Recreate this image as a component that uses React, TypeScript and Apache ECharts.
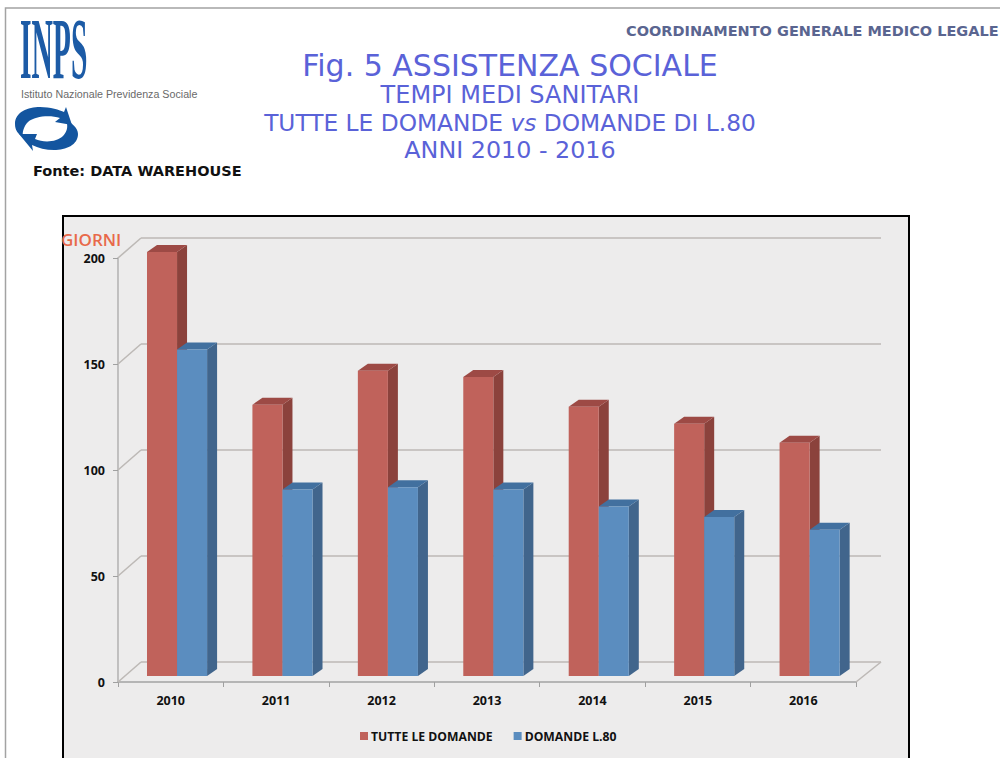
import React, { useEffect, useRef } from "react";
import * as echarts from "echarts";

const categories = ["2010", "2011", "2012", "2013", "2014", "2015", "2016"];
const tutteLeDomande = [200, 128, 144, 141, 127, 119, 110];
const domandeL80 = [154, 88, 89, 88, 80, 75, 69];
const yTicks = [0, 50, 100, 150, 200];

const SWIRL_TOP =
  "M15,124 C15,112 28,107 40,107 C50,107 60,110 64,112 L66,107 L72,125 L55,122 L60,118 C50,115 35,116 28,122 C24,126 22,132 23,137 C18,134 15,130 15,124 Z";
const SWIRL_BOTTOM =
  "M78,134 C78,145 66,150 54,150 C46,150 38,148 32,145 L33,151 L19,134 L37,134 L35,139 C44,143 57,142 63,136 C68,131 68,125 66,120 C72,123 78,128 78,134 Z";
echarts.graphic.registerShape("swirlTop", echarts.graphic.extendPath(SWIRL_TOP, {}) as any);
echarts.graphic.registerShape("swirlBottom", echarts.graphic.extendPath(SWIRL_BOTTOM, {}) as any);

function bar3d(color: string, topColor: string, sideColor: string, slot: number) {
  return (params: any, api: any) => {
    const band = api.size([1, 0])[0];
    const w = band * 0.285;
    const dx = 10;
    const dy = 7;
    const lift = 6;
    const center = api.coord([api.value(0), 0])[0] + band * 0.06;
    const x0 = center + (slot - 1) * w;
    const x1 = x0 + w;
    const yb = api.coord([0, 0])[1] - lift;
    const yt = api.coord([0, api.value(1)])[1] - lift;
    return {
      type: "group",
      children: [
        { type: "polygon", shape: { points: [[x1, yt], [x1 + dx, yt - dy], [x1 + dx, yb - dy], [x1, yb]] }, style: { fill: sideColor } },
        { type: "polygon", shape: { points: [[x0, yt], [x0 + dx, yt - dy], [x1 + dx, yt - dy], [x1, yt]] }, style: { fill: topColor } },
        { type: "rect", shape: { x: x0, y: yt, width: w, height: yb - yt }, style: { fill: color } },
      ],
    };
  };
}

function wall(params: any, api: any) {
  const v = api.value(1);
  const p = api.coord([0, v]);
  const g = params.coordSys;
  const x0 = g.x;
  const y = p[1];
  const right = g.x + g.width;
  const line = (a: number[], b: number[]) => ({
    type: "line",
    shape: { x1: a[0], y1: a[1], x2: b[0], y2: b[1] },
    style: { stroke: "#bdb9b6", lineWidth: 1.6 },
  });
  const children: any[] = [
    line([x0, y], [x0 + 23, y - 20]),
    line([x0 + 23, y - 20], [right + 25, y - 20]),
  ];
  if (v === 0) children.push(line([right, y], [right + 25, y - 20]));
  return { type: "group", children };
}

export default function App() {
  const ref = useRef<HTMLDivElement>(null);
  useEffect(() => {
    const chart = echarts.init(ref.current!, undefined, { renderer: "svg" });
    const axisFont = { fontFamily: "Open Sans", fontWeight: "bold" as const, fontSize: 12.5, color: "#111" };
    const titleColor = "#5a62d8";
    const title = (text: string, y: number, fontSize: number) => ({
      type: "text",
      x: 510,
      y,
      style: { text, fontFamily: "DejaVu Sans", fontSize, fill: titleColor, align: "center", verticalAlign: "middle" },
    });
    chart.setOption({
      animation: false,
      graphic: [
        { type: "rect", z: -10, shape: { x: 5.5, y: 8, width: 1100, height: 900 }, style: { fill: "#fff", stroke: "#a3a3a3", lineWidth: 1.5 } },
        { type: "rect", z: -9, shape: { x: 63, y: 216, width: 846, height: 600 }, style: { fill: "#edecec", stroke: "#000", lineWidth: 2 } },
        { type: "text", x: 20, y: 49, scaleX: 0.34, style: { text: "INPS", fontFamily: "Liberation Serif", fontWeight: "bold", fontSize: 87, fill: "#1c5ba6", verticalAlign: "middle" } },
        { type: "text", x: 21, y: 88, scaleX: 0.93, style: { text: "Istituto Nazionale Previdenza Sociale", fontFamily: "Liberation Sans", fontSize: 11.5, fill: "#6a6a6a" } },
        { type: "swirlTop", x: 0, y: 0, style: { fill: "#13559f" } },
        { type: "swirlBottom", x: 0, y: 0, style: { fill: "#13559f" } },
        { type: "text", x: 33, y: 163, style: { text: "Fonte: DATA WAREHOUSE", fontFamily: "DejaVu Sans", fontWeight: "bold", fontSize: 14.5, fill: "#111" } },
        { type: "text", x: 626, y: 23, style: { text: "COORDINAMENTO GENERALE MEDICO LEGALE", fontFamily: "DejaVu Sans", fontWeight: "bold", fontSize: 14.5, fill: "#5a6590" } },
        title("Fig. 5 ASSISTENZA SOCIALE", 65, 30),
        title("TEMPI MEDI SANITARI", 95, 24),
        {
          type: "text",
          x: 510,
          y: 122,
          style: {
            text: "{n|TUTTE LE DOMANDE }{i|vs}{n| DOMANDE DI L.80}",
            align: "center",
            verticalAlign: "middle",
            rich: {
              n: { fontFamily: "DejaVu Sans", fontSize: 23.3, fill: titleColor },
              i: { fontFamily: "DejaVu Sans", fontStyle: "italic", fontSize: 23.3, fill: titleColor },
            },
          },
        },
        title("ANNI 2010 - 2016", 150, 23.8),
        { type: "text", x: 61, y: 231, style: { text: "GIORNI", fontFamily: "Open Sans", fontWeight: 600, fontSize: 17, fill: "#e8694a" } },
      ],
      legend: {
        left: 355,
        top: 725,
        itemWidth: 8,
        itemHeight: 8,
        itemGap: 21,
        icon: "rect",
        textStyle: { ...axisFont, fontSize: 12.2, padding: [0, 0, 0, -2] },
        data: ["TUTTE LE DOMANDE", "DOMANDE L.80"],
      },
      grid: { left: 118, top: 258, width: 738, height: 424 },
      xAxis: {
        type: "category",
        data: categories,
        axisLine: { lineStyle: { color: "#b5b5b5", width: 2 } },
        axisTick: { show: true, alignWithLabel: false, length: 5, lineStyle: { color: "#a0a0a0" } },
        axisLabel: { ...axisFont, margin: 12 },
      },
      yAxis: {
        type: "value",
        min: 0,
        max: 200,
        interval: 50,
        axisLine: { show: true, lineStyle: { color: "#b5b5b5", width: 1.6 } },
        axisTick: { show: true, length: 5, lineStyle: { color: "#a0a0a0" } },
        splitLine: { show: false },
        axisLabel: { ...axisFont, margin: 13 },
      },
      series: [
        {
          type: "custom",
          name: "wall",
          silent: true,
          renderItem: wall,
          encode: { x: 0, y: 1 },
          data: yTicks.map((v) => [0, v]),
          z: 1,
        },
        {
          type: "custom",
          name: "TUTTE LE DOMANDE",
          renderItem: bar3d("#c0625b", "#9d4a45", "#8b423c", 0),
          itemStyle: { color: "#c0625b" },
          encode: { x: 0, y: 1 },
          data: tutteLeDomande.map((v, i) => [i, v]),
          z: 3,
        },
        {
          type: "custom",
          name: "DOMANDE L.80",
          renderItem: bar3d("#5b8dbf", "#42709f", "#41658c", 1),
          itemStyle: { color: "#5b8dbf" },
          encode: { x: 0, y: 1 },
          data: domandeL80.map((v, i) => [i, v]),
          z: 4,
        },
      ],
    });
    return () => chart.dispose();
  }, []);
  return <div ref={ref} style={{ position: "absolute", left: 0, top: 0, width: 1000, height: 758 }} />;
}
